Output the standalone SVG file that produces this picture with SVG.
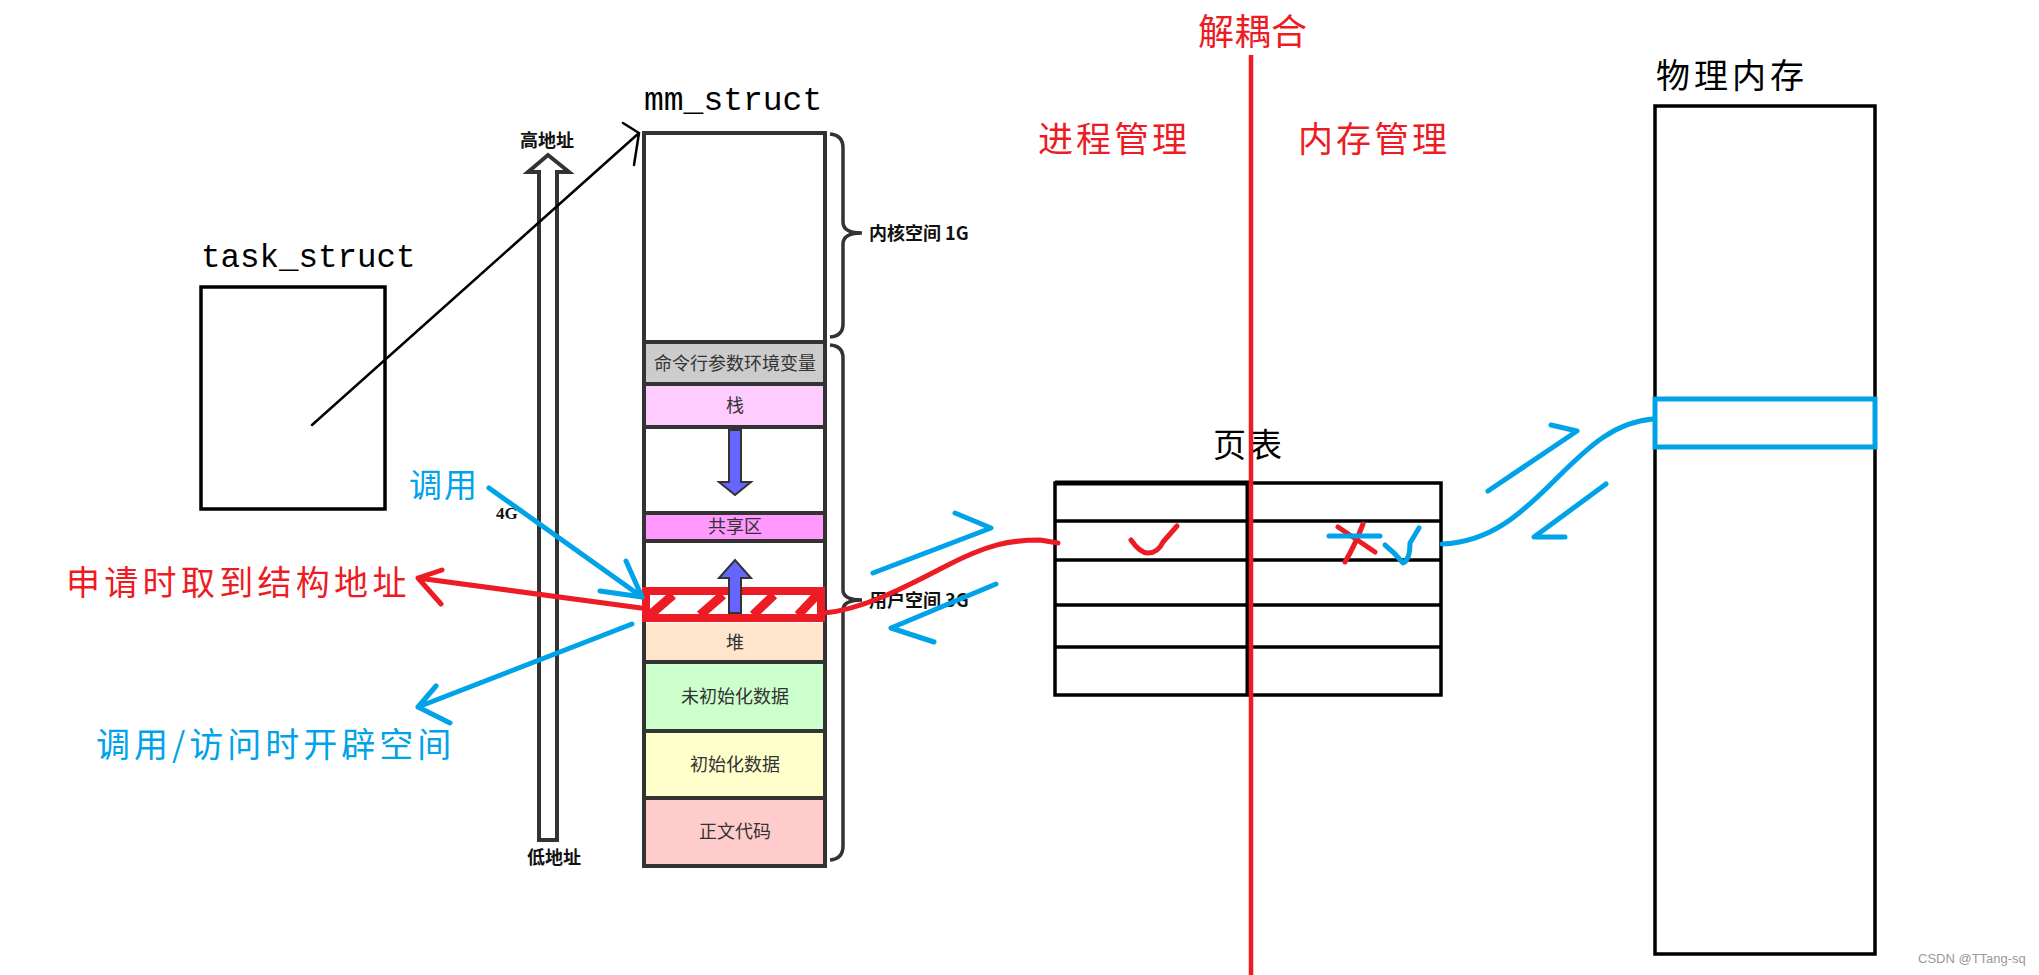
<svg xmlns="http://www.w3.org/2000/svg" width="2039" height="975" viewBox="0 0 2039 975">
<style>
.mono{font-family:"Liberation Mono","DejaVu Sans Mono",monospace;fill:#000}
.cjk{font-family:"Noto Sans CJK SC","Noto Sans",sans-serif}
.red{fill:#ed1c24}
.blue{fill:#00a2e8}
.blk{fill:#000}
.seg{font-family:"Noto Sans CJK SC",sans-serif;font-size:18px;fill:#333;text-anchor:middle}
.small{font-family:"Noto Sans CJK SC",sans-serif;font-size:18px;font-weight:bold;fill:#111}
.box{fill:none;stroke:#000;stroke-width:3.5}
.mm{stroke:#333;stroke-width:4}
.rl{fill:none;stroke:#ed1c24;stroke-width:5;stroke-linecap:round;stroke-linejoin:round}
.bl{fill:none;stroke:#00a2e8;stroke-width:5;stroke-linecap:round;stroke-linejoin:round}
.kl{fill:none;stroke:#000;stroke-width:2.5;stroke-linecap:round}
.brace{fill:none;stroke:#333;stroke-width:3.5}
.tbl{stroke:#000;stroke-width:3.5}
</style>
<rect width="2039" height="975" fill="#fff"/>

<!-- task_struct -->
<g id="task_struct">
<text class="mono" x="201" y="267" font-size="32.5">task_struct</text>
<rect class="box" x="201" y="287" width="184" height="222"/>
</g>

<!-- address axis -->
<g id="addr-axis">
<path d="M539,172 L528,172 L548,155 L569,172 L557,172 L557,840 L539,840 Z" fill="#fff" stroke="#333" stroke-width="4"/>
<text class="small" x="547" y="147" text-anchor="middle">高地址</text>
<text class="small" x="554" y="864" text-anchor="middle">低地址</text>
<text x="496" y="519" font-family="Liberation Serif,serif" font-weight="bold" font-size="17" fill="#111">4G</text>
</g>

<!-- mm_struct -->
<g id="mm_struct">
<text class="mono" x="644" y="110" font-size="33">mm_struct</text>
<rect x="644" y="342" width="181" height="42" fill="#ccc"/>
<rect x="644" y="384" width="181" height="43" fill="#fcf"/>
<rect x="644" y="513" width="181" height="28" fill="#f9f"/>
<rect x="644" y="623" width="181" height="39" fill="#ffe5cc"/>
<rect x="644" y="662" width="181" height="69" fill="#cfc"/>
<rect x="644" y="731" width="181" height="67" fill="#ffc"/>
<rect x="644" y="798" width="181" height="68" fill="#fcc"/>
<g class="mm">
<line x1="644" y1="342" x2="825" y2="342"/>
<line x1="644" y1="384" x2="825" y2="384"/>
<line x1="644" y1="427" x2="825" y2="427"/>
<line x1="644" y1="513" x2="825" y2="513"/>
<line x1="644" y1="541" x2="825" y2="541"/>
<line x1="644" y1="662" x2="825" y2="662"/>
<line x1="644" y1="731" x2="825" y2="731"/>
<line x1="644" y1="798" x2="825" y2="798"/>
</g>
<rect x="644" y="133" width="181" height="733" fill="none" stroke="#333" stroke-width="4"/>
<text class="seg" x="735" y="370" font-size="19">命令行参数环境变量</text>
<text class="seg" x="735" y="412">栈</text>
<text class="seg" x="735" y="533">共享区</text>
<text class="seg" x="735" y="649">堆</text>
<text class="seg" x="735" y="703">未初始化数据</text>
<text class="seg" x="735" y="771">初始化数据</text>
<text class="seg" x="735" y="838">正文代码</text>
<!-- stack down arrow -->
<path d="M729,430 L741,430 L741,482 L751,482 L735,495 L719,482 L729,482 Z" fill="#66f" stroke="#333" stroke-width="2"/>
<!-- hatched region -->
<g id="hatched">
<rect x="646" y="591" width="175" height="27" fill="#fff" stroke="#ed1c24" stroke-width="8"/>
<g stroke="#ed1c24" stroke-width="9">
<line x1="650" y1="615" x2="673" y2="595"/>
<line x1="700" y1="615" x2="723" y2="595"/>
<line x1="753" y1="615" x2="774" y2="595"/>
<line x1="798" y1="615" x2="817" y2="595"/>
</g>
</g>
<!-- heap up arrow -->
<path d="M729,613 L729,578 L719,578 L735,560 L751,578 L741,578 L741,613 Z" fill="#66f" stroke="#333" stroke-width="2"/>
<!-- braces -->
<path class="brace" d="M830,134 Q843,135 843,148 L843,222 Q843,233 862,233 Q843,233 843,244 L843,324 Q843,336 830,337"/>
<path class="brace" d="M830,345 Q843,346 843,358 L843,590 Q843,600 862,600 Q843,600 843,610 L843,846 Q843,859 830,860"/>
<text class="small" x="869" y="240" font-size="20">内核空间 1G</text>
<text class="small" x="869" y="607" font-size="20">用户空间 3G</text>
</g>

<!-- page table -->
<g id="page-table">
<text class="cjk blk" x="1213" y="457" font-size="33" letter-spacing="3">页表</text>
<rect x="1055" y="483" width="386" height="212" fill="none" stroke="#000" stroke-width="3.5"/>
<line x1="1055" y1="483" x2="1249" y2="483" stroke="#000" stroke-width="5"/>
<g class="tbl">
<line x1="1055" y1="521" x2="1441" y2="521"/>
<line x1="1055" y1="560" x2="1441" y2="560"/>
<line x1="1055" y1="605" x2="1441" y2="605"/>
<line x1="1055" y1="647" x2="1441" y2="647"/>
</g>
<line x1="1248" y1="483" x2="1248" y2="695" stroke="#000" stroke-width="5"/>
</g>

<!-- physical memory -->
<g id="phys-mem">
<text class="cjk blk" x="1656" y="88" font-size="34" letter-spacing="4">物理内存</text>
<rect class="box" x="1655" y="106" width="220" height="848"/>
<rect x="1655" y="399" width="220" height="48" fill="#fff" stroke="#00a2e8" stroke-width="5"/>
</g>

<!-- decoupling -->
<g id="decouple">
<line x1="1251" y1="55" x2="1251" y2="975" stroke="#ed1c24" stroke-width="4.5"/>
<text class="cjk red" x="1198" y="45" font-size="36" letter-spacing="0.5">解耦合</text>
<text class="cjk red" x="1038" y="152" font-size="35" letter-spacing="3">进程管理</text>
<text class="cjk red" x="1298" y="152" font-size="35" letter-spacing="3">内存管理</text>
</g>

<!-- labels -->
<g id="labels">
<text class="cjk red" x="66" y="595" font-size="34" letter-spacing="4.3">申请时取到结构地址</text>
<text class="cjk blue" x="96" y="757" font-size="34" letter-spacing="4">调用/访问时开辟空间</text>
<text class="cjk blue" x="409" y="497" font-size="33" letter-spacing="2">调用</text>
<text x="1918" y="963" font-family="Liberation Sans,sans-serif" font-size="13" fill="#999">CSDN @TTang-sq</text>
</g>

<!-- connectors -->
<g id="connectors">
<path class="kl" d="M312,425 L639,133 M623,123 L639,133 L634,165"/>
<path class="bl" d="M489,488 L642,597 M626,561 L642,597 L600,591"/>
<path class="rl" d="M641,608 L418,578 M442,570 L418,578 L441,604"/>
<path class="bl" d="M632,624 L418,707 M436,686 L418,707 L450,723"/>
<path class="bl" d="M873,573 L991,528 L955,513"/>
<path class="bl" d="M996,584 L891,628 L934,642"/>
<path class="rl" d="M824,613 C860,610 900,590 944,567 S1010,540 1040,540 L1058,543" stroke-width="4"/>
<path class="rl" d="M1131,540 Q1140,553 1148,553 Q1158,553 1163,542 L1177,526" stroke-width="3.5"/>
<path class="rl" d="M1338,527 L1375,552 M1363,524 Q1355,545 1345,562" stroke-width="3.5"/>
<path class="bl" d="M1329,536 L1380,536" stroke-width="3"/>
<path class="bl" d="M1385,545 Q1395,553 1403,563 Q1410,560 1410,543 L1419,528" stroke-width="3.5"/>
<path class="bl" d="M1442,544 C1490,542 1520,515 1555,480 C1590,445 1615,422 1653,419"/>
<path class="bl" d="M1488,491 L1577,431 L1551,425"/>
<path class="bl" d="M1606,484 L1534,537 L1565,537"/>
</g>
</svg>
